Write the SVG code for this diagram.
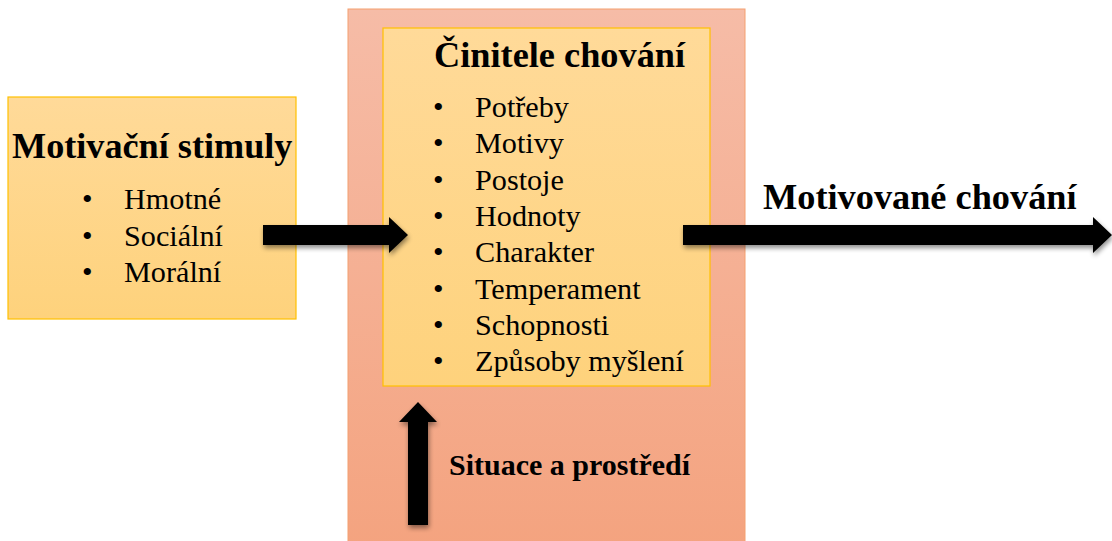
<svg xmlns="http://www.w3.org/2000/svg" width="1112" height="541" viewBox="0 0 1112 541">
  <defs>
    <linearGradient id="gradYellow" x1="0" y1="0" x2="0" y2="1">
      <stop offset="0" stop-color="#FFDA99"/>
      <stop offset="1" stop-color="#FED27C"/>
    </linearGradient>
    <linearGradient id="gradPink" x1="0" y1="0" x2="0" y2="1">
      <stop offset="0" stop-color="#F6BCA7"/>
      <stop offset="1" stop-color="#F4A37F"/>
    </linearGradient>
    <filter id="shadow" x="-10%" y="-30%" width="120%" height="160%">
      <feGaussianBlur in="SourceAlpha" stdDeviation="2.5"/>
      <feOffset dx="1" dy="3" result="blur"/>
      <feComponentTransfer><feFuncA type="linear" slope="0.45"/></feComponentTransfer>
      <feMerge><feMergeNode/><feMergeNode in="SourceGraphic"/></feMerge>
    </filter>
  </defs>
  <style>
    .box-y { fill: url(#gradYellow); stroke: #FFC000; stroke-width: 1.2; }
    .box-p { fill: url(#gradPink); stroke: #F4A070; stroke-width: 1; }
    .title { font-family: "Liberation Serif", "Times New Roman", serif; font-weight: bold; fill: #000; }
    .item { font-family: "Liberation Serif", "Times New Roman", serif; font-size: 30.2px; fill: #000; }
    .arrow { fill: #000; filter: url(#shadow); }
  </style>

  <rect width="1112" height="541" fill="#FFFFFF"/>

  <!-- Motivational stimuli -->
  <g id="stimuly">
    <rect class="box-y" x="8" y="97" width="288" height="222"/>
    <text class="title" x="12" y="158" font-size="36.2">Motivační stimuly</text>
    <text class="item" x="82" y="209">•</text>
    <text class="item" x="124" y="209">Hmotné</text>
    <text class="item" x="82" y="246">•</text>
    <text class="item" x="124" y="246">Sociální</text>
    <text class="item" x="82" y="282">•</text>
    <text class="item" x="124" y="282">Morální</text>
  </g>

  <!-- Situation and environment (outer frame) -->
  <g id="situace">
    <rect class="box-p" x="348" y="9" width="397" height="540"/>
    <text class="title" x="449" y="475" font-size="30">Situace a prostředí</text>
  </g>

  <!-- Behaviour factors -->
  <g id="cinitele">
    <rect class="box-y" x="383" y="28" width="327" height="358"/>
    <text class="title" x="434" y="67" font-size="36.3">Činitele chování</text>
    <g class="item">
      <text x="433" y="117">•</text><text x="475" y="117">Potřeby</text>
      <text x="433" y="153">•</text><text x="475" y="153">Motivy</text>
      <text x="433" y="190">•</text><text x="475" y="190">Postoje</text>
      <text x="433" y="226">•</text><text x="475" y="226">Hodnoty</text>
      <text x="433" y="262">•</text><text x="475" y="262">Charakter</text>
      <text x="433" y="299">•</text><text x="475" y="299">Temperament</text>
      <text x="433" y="335">•</text><text x="475" y="335">Schopnosti</text>
      <text x="433" y="371">•</text><text x="475" y="371">Způsoby myšlení</text>
    </g>
  </g>

  <!-- Outcome label -->
  <g id="chovani">
    <text class="title" x="763" y="209" font-size="36.3">Motivované chování</text>
  </g>

  <!-- Connectors -->
  <g id="connectors">
    <polygon class="arrow" points="263,225 389,225 389,217 408,235 389,253 389,245 263,245"/>
    <polygon class="arrow" points="683,225 1093,225 1093,217 1112,235 1093,253 1093,245 683,245"/>
    <polygon class="arrow" points="408,525 408,422 399,422 418,402 437,422 428,422 428,525"/>
  </g>
</svg>
